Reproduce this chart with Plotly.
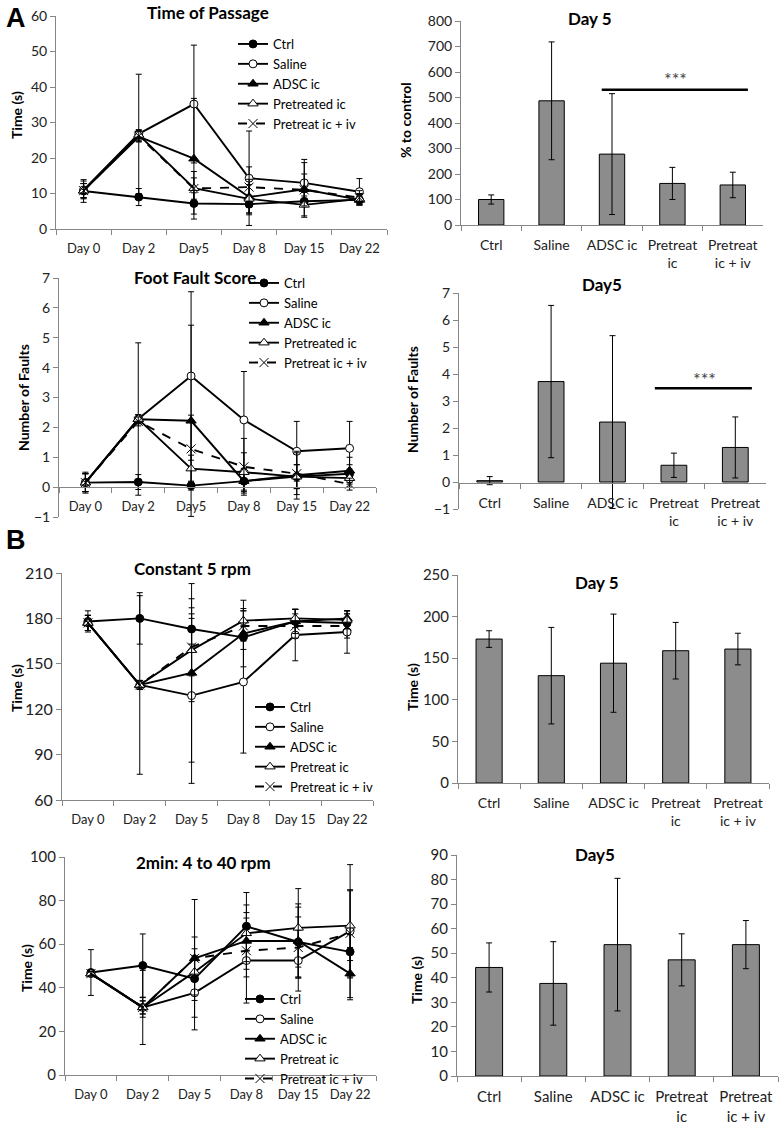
import plotly.graph_objects as go

W, H = 780, 1125
FONT = "Lato, Open Sans, sans-serif"

# ---- data ----
days_a = ["Day 0", "Day 2", "Day5", "Day 8", "Day 15", "Day 22"]
days_b = ["Day 0", "Day 2", "Day 5", "Day 8", "Day 15", "Day 22"]
groups_a = ["Ctrl", "Saline", "ADSC ic", "Pretreated ic", "Pretreat ic + iv"]
groups_b = ["Ctrl", "Saline", "ADSC ic", "Pretreat ic", "Pretreat ic + iv"]
bar_cats = ["Ctrl", "Saline", "ADSC ic", "Pretreat<br>ic", "Pretreat<br>ic + iv"]

# Time of Passage (s)
pass_ctrl = [10.7, 9.0, 7.2, 7.0, 7.8, 8.2]
pass_ctrl_err = [3.2, 2.4, 3.0, 2.5, 1.5, 1.0]
pass_saline = [11.0, 26.8, 35.2, 14.3, 13.0, 10.5]
pass_saline_err = [2.5, 16.8, 16.6, 13.3, 6.6, 3.7]
pass_adsc = [10.8, 26.0, 19.8, 9.0, 11.2, 8.2]
pass_adsc_err = [2.0, 1.5, 17.0, 5.0, 7.5, 1.5]
pass_pre = [10.8, 26.5, 11.5, 8.5, 6.8, 8.5]
pass_pre_err = [2.0, 1.5, 4.7, 4.0, 3.5, 1.5]
pass_iv = [10.8, 26.2, 11.4, 11.8, 11.0, 8.8]
pass_iv_err = [2.0, 1.5, 3.0, 5.7, 4.5, 2.0]

# Time of Passage, Day 5 (% to control)
pass_pct = [100, 487, 278, 163, 157]
pass_pct_err = [18, 231, 237, 63, 50]

# Foot Fault Score
ff_ctrl = [0.15, 0.17, 0.05, 0.2, 0.35, 0.45]
ff_ctrl_err = [0.35, 0.25, 0.15, 0.3, 0.4, 0.3]
ff_saline = [0.15, 2.28, 3.72, 2.25, 1.2, 1.3]
ff_saline_err = [0.3, 2.55, 2.82, 1.62, 1.0, 0.9]
ff_adsc = [0.15, 2.27, 2.22, 0.2, 0.4, 0.55]
ff_adsc_err = [0.3, 0.15, 3.2, 0.4, 0.8, 0.45]
ff_pre = [0.15, 2.28, 0.62, 0.5, 0.35, 0.3]
ff_pre_err = [0.3, 0.15, 0.45, 0.65, 0.4, 0.3]
ff_iv = [0.15, 2.2, 1.28, 0.68, 0.45, 0.1]
ff_iv_err = [0.3, 0.15, 1.13, 0.95, 0.7, 0.2]

# Rotarod constant 5 rpm (s)
c5_ctrl = [178, 180, 173, 167.5, 178, 177]
c5_ctrl_err = [7, 17, 10, 8, 8, 6]
c5_saline = [177, 136, 129, 138, 169, 171]
c5_saline_err = [5, 59, 58, 47, 17, 14]
c5_adsc = [177, 136, 144, 170, 178, 180]
c5_adsc_err = [5, 3, 59, 22, 8, 5]
c5_pre = [177, 136, 159, 178.5, 180, 179]
c5_pre_err = [5, 3, 34, 8, 6, 6]
c5_iv = [177, 136, 161, 175, 175, 175]
c5_iv_err = [5, 3, 19, 10, 8, 8]

# Rotarod 2min 4 to 40 rpm (s)
r40_ctrl = [47, 50.2, 44.2, 68.2, 61, 56.5]
r40_ctrl_err = [10.5, 14.5, 10, 15.5, 16, 12]
r40_saline = [46.5, 31, 37.7, 52.5, 52.5, 66]
r40_saline_err = [1, 17, 17, 19.5, 14, 30.5]
r40_adsc = [46.5, 31, 53.5, 61.5, 61.5, 46.5]
r40_adsc_err = [1, 4.5, 27, 13, 17, 12]
r40_pre = [46.5, 31, 47.3, 65, 67.5, 68.5]
r40_pre_err = [1, 3, 10.6, 13, 18, 16]
r40_iv = [46.5, 31, 53.5, 57, 58.5, 65]
r40_iv_err = [1, 3, 9.8, 12, 14, 20]

# series styles: (symbol, fill, dash)
styles = [("circle", "black", "solid"), ("circle", "white", "solid"),
          ("triangle-up", "black", "solid"), ("triangle-up", "white", "solid"),
          ("x-thin", "black", "dash")]


def fx(p):
    return p / W


def fy(p):
    return 1 - p / H


fig = go.Figure()


def add_lines(n, days, names, series, errs, legend):
    for i, (name, y, e) in enumerate(zip(names, series, errs)):
        sym, fill, dash = styles[i]
        size = 9 if sym != "circle" else 8
        fig.add_trace(go.Scatter(
            x=days, y=y, name=name, mode="lines+markers",
            xaxis="x%d" % n, yaxis="y%d" % n, legend=legend,
            line=dict(color="black", width=1.9, dash=dash),
            marker=dict(symbol=sym, size=size, color=fill,
                        line=dict(color="black", width=1)),
            error_y=dict(type="data", array=e, color="black", thickness=1, width=3),
        ))


def add_bars(n, y, e):
    fig.add_trace(go.Bar(
        x=bar_cats, y=y, xaxis="x%d" % n, yaxis="y%d" % n, showlegend=False,
        width=0.42, marker=dict(color="#8c8c8c", line=dict(color="black", width=1)),
        error_y=dict(type="data", array=e, color="black", thickness=1, width=3),
    ))


add_lines(1, days_a, groups_a, [pass_ctrl, pass_saline, pass_adsc, pass_pre, pass_iv],
          [pass_ctrl_err, pass_saline_err, pass_adsc_err, pass_pre_err, pass_iv_err], "legend")
add_bars(2, pass_pct, pass_pct_err)
add_lines(3, days_a, groups_a, [ff_ctrl, ff_saline, ff_adsc, ff_pre, ff_iv],
          [ff_ctrl_err, ff_saline_err, ff_adsc_err, ff_pre_err, ff_iv_err], "legend2")
add_bars(4, [s[2] for s in [ff_ctrl, ff_saline, ff_adsc, ff_pre, ff_iv]],
         [s[2] for s in [ff_ctrl_err, ff_saline_err, ff_adsc_err, ff_pre_err, ff_iv_err]])
add_lines(5, days_b, groups_b, [c5_ctrl, c5_saline, c5_adsc, c5_pre, c5_iv],
          [c5_ctrl_err, c5_saline_err, c5_adsc_err, c5_pre_err, c5_iv_err], "legend3")
add_bars(6, [s[2] for s in [c5_ctrl, c5_saline, c5_adsc, c5_pre, c5_iv]],
         [s[2] for s in [c5_ctrl_err, c5_saline_err, c5_adsc_err, c5_pre_err, c5_iv_err]])
add_lines(7, days_b, groups_b, [r40_ctrl, r40_saline, r40_adsc, r40_pre, r40_iv],
          [r40_ctrl_err, r40_saline_err, r40_adsc_err, r40_pre_err, r40_iv_err], "legend4")
add_bars(8, [s[2] for s in [r40_ctrl, r40_saline, r40_adsc, r40_pre, r40_iv]],
         [s[2] for s in [r40_ctrl_err, r40_saline_err, r40_adsc_err, r40_pre_err, r40_iv_err]])

# panel geometry in pixels: x0, x1, ytop, ybottom, y range, dtick, y zero px (or None),
# y tick font, x tick font
panels = {
    1: (56, 387, 16, 229, [0, 60], 10, None, 14, 13),
    2: (461, 763, 21, 225, [0, 800], 100, None, 14, 14),
    3: (59, 376, 278, 517, [-1, 7], 1, 487, 14, 13),
    4: (459, 766, 293, 509, [-1, 7], 1, 483, 14, 14),
    5: (62, 373, 573, 800, [60, 210], 30, None, 16, 13),
    6: (458, 769, 575, 783, [0, 250], 50, None, 15, 14),
    7: (65, 376, 857, 1075, [0, 100], 20, None, 15, 13),
    8: (457, 778, 855, 1076, [0, 90], 10, None, 15, 15),
}

axis_col = "#868686"
layout_axes = {}
for n, (x0, x1, yt, yb, yr, dt, yzero, yfs, xfs) in panels.items():
    xa = dict(domain=[fx(x0), fx(x1)], type="category", range=[-0.5, 4.5 if n % 2 == 0 else 5.5],
              showline=True, linecolor=axis_col, linewidth=1, ticks="outside", ticklen=5,
              tickcolor=axis_col, tickson="boundaries", showgrid=False, zeroline=False,
              ticklabelstandoff=7,
              automargin=False, tickfont=dict(size=xfs, color="#222", family=FONT))
    if yzero is None:
        xa["anchor"] = "y%d" % n
    else:
        xa["anchor"] = "free"
        xa["position"] = fy(yzero)
    ya = dict(domain=[fy(yb), fy(yt)], anchor="x%d" % n, range=yr, dtick=dt, tick0=0,
              showline=True, linecolor=axis_col, linewidth=1, ticks="outside", ticklen=5,
              tickcolor=axis_col, showgrid=False, zeroline=False, automargin=False,
              tickfont=dict(size=yfs, color="#222", family=FONT))
    layout_axes["xaxis%d" % n] = xa
    layout_axes["yaxis%d" % n] = ya

fig.update_layout(template="none", **layout_axes)

leg_common = dict(xanchor="left", yanchor="top", bgcolor="rgba(0,0,0,0)", borderwidth=0,
                  font=dict(size=13, color="black", family=FONT), tracegroupgap=0)
fig.update_layout(
    legend=dict(x=fx(233), y=fy(29), **leg_common),
    legend2=dict(x=fx(244), y=fy(268), **leg_common),
    legend3=dict(x=fx(250), y=fy(692), **leg_common),
    legend4=dict(x=fx(240), y=fy(984), **leg_common),
)

annotations = []
titles = [("Time of Passage", 208, 12), ("Day 5", 590, 18), ("Foot Fault Score", 195, 278),
          ("Day5", 602, 284), ("Constant 5 rpm", 192, 568), ("Day 5", 597, 582),
          ("2min: 4 to 40 rpm", 203, 862), ("Day5", 595, 854)]
for t, x, y in titles:
    annotations.append(dict(text="<b>%s</b>" % t, x=fx(x), y=fy(y), xref="paper", yref="paper",
                            xanchor="center", yanchor="middle", showarrow=False,
                            font=dict(size=17, color="black", family=FONT)))

ytitles = [("Time (s)", 17, 115), ("% to control", 405, 120), ("Number of Faults", 24, 398),
           ("Number of Faults", 412, 400), ("Time (s)", 16, 688), ("Time (s)", 412, 687),
           ("Time (s)", 26, 968), ("Time (s)", 417, 980)]
for t, x, y in ytitles:
    annotations.append(dict(text="<b>%s</b>" % t, x=fx(x), y=fy(y), xref="paper", yref="paper",
                            xanchor="center", yanchor="middle", showarrow=False, textangle=-90,
                            font=dict(size=14, color="black", family=FONT)))

for t, x, y in [("A", 16, 18), ("B", 16, 540)]:
    annotations.append(dict(text="<b>%s</b>" % t, x=fx(x), y=fy(y), xref="paper", yref="paper",
                            xanchor="center", yanchor="middle", showarrow=False,
                            font=dict(size=27, color="black", family="Arial")))

# significance markers
annotations.append(dict(text="***", x=3.05, y=572, xref="x2", yref="y2", showarrow=False,
                        xanchor="center", yanchor="middle",
                        font=dict(size=18, color="#444", family=FONT)))
annotations.append(dict(text="***", x=3.5, y=3.82, xref="x4", yref="y4", showarrow=False,
                        xanchor="center", yanchor="middle",
                        font=dict(size=18, color="#444", family=FONT)))

shapes = [
    dict(type="line", xref="x2", yref="y2", x0=1.83, x1=4.25, y0=530, y1=530,
         line=dict(color="black", width=2.5)),
    dict(type="line", xref="x4", yref="y4", x0=2.69, x1=4.27, y0=3.47, y1=3.47,
         line=dict(color="black", width=2.5)),
]

fig.update_layout(
    width=W, height=H, margin=dict(l=0, r=0, t=0, b=0, autoexpand=False),
    paper_bgcolor="white", plot_bgcolor="white",
    font=dict(family=FONT, color="black"),
    annotations=annotations, shapes=shapes,
)

# drop the browser's default page margin so the figure sits at the window origin
fig.write_html("out.html", config={"displayModeBar": False},
               post_script="document.body.style.margin='0';")
